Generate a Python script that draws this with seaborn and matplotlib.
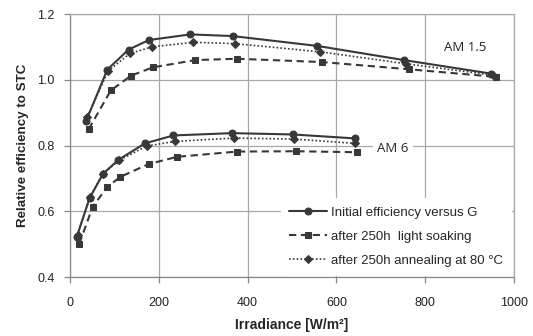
import matplotlib
matplotlib.use("Agg")
import matplotlib.pyplot as plt
import seaborn as sns
import pandas as pd

# ---- data ----
am15_g_init = [36, 84, 132, 178, 271, 366, 557, 752, 948]
am15_init = [0.874, 1.031, 1.092, 1.121, 1.138, 1.133, 1.103, 1.060, 1.019]
am15_g_ls = [42, 92, 138, 187, 282, 376, 568, 764, 959]
am15_ls = [0.850, 0.968, 1.013, 1.038, 1.060, 1.064, 1.054, 1.032, 1.009]
am15_g_ann = [39, 86, 135, 184, 278, 372, 564, 756, 953]
am15_ann = [0.888, 1.027, 1.080, 1.100, 1.114, 1.110, 1.085, 1.049, 1.014]

am6_g_init = [15, 44, 74, 109, 169, 233, 365, 502, 642]
am6_init = [0.522, 0.640, 0.714, 0.757, 0.807, 0.831, 0.838, 0.834, 0.822]
am6_g_ls = [21, 51, 83, 113, 177, 241, 376, 510, 647]
am6_ls = [0.502, 0.614, 0.673, 0.705, 0.744, 0.766, 0.782, 0.783, 0.780]
am6_g_ann = [17, 45, 75, 110, 173, 237, 369, 504, 642]
am6_ann = [0.530, 0.645, 0.715, 0.755, 0.799, 0.813, 0.823, 0.820, 0.807]

series_labels = ["Initial efficiency versus G",
                 "after 250h  light soaking",
                 "after 250h annealing at 80 \u00b0C"]
x_ticks = [0, 200, 400, 600, 800, 1000]
y_ticks = [0.4, 0.6, 0.8, 1.0, 1.2]

sns.set_theme(style="white")
plt.rcParams['font.family'] = ['Liberation Sans', 'DejaVu Sans']

fig = plt.figure(figsize=(5.33, 3.36), dpi=100)
ax = fig.add_axes([70/533, 1-277.3/336, (514-70)/533, (277.3-14)/336])

col = "#383838"
styles = [
    dict(ls="-", marker="o", ms=5.0, lw=1.5),
    dict(ls=(0, (3.5, 2.2)), marker="s", ms=4.2, lw=1.5),
    dict(ls=(0, (1, 1.3)), marker="D", ms=3.6, lw=1.2),
]
data = [
    [(am15_g_init, am15_init), (am6_g_init, am6_init)],
    [(am15_g_ls, am15_ls), (am6_g_ls, am6_ls)],
    [(am15_g_ann, am15_ann), (am6_g_ann, am6_ann)],
]
for i, (lab, st) in enumerate(zip(series_labels, styles)):
    for j, (gx, gy) in enumerate(data[i]):
        df = pd.DataFrame({"G": gx, "eff": gy})
        sns.lineplot(data=df, x="G", y="eff", ax=ax, sort=False, color=col,
                     linestyle=st["ls"], marker=st["marker"], markersize=st["ms"],
                     linewidth=st["lw"], markeredgecolor=col, markerfacecolor=col,
                     label=lab if j == 0 else None, legend=False, zorder=3)

ax.set_xlim(0, 1000)
ax.set_ylim(0.4, 1.2)
ax.set_xticks(x_ticks)
ax.set_yticks(y_ticks)
ax.set_xticklabels([str(t) for t in x_ticks], fontsize=9, color="#222222")
ax.set_yticklabels([f"{t:.1f}" for t in y_ticks], fontsize=9, color="#222222")
ax.grid(True, color="#a8a8a8", linewidth=0.9)
ax.set_axisbelow(True)
for s in ax.spines.values():
    s.set_color("#a8a8a8")
    s.set_linewidth(0.9)
ax.spines["left"].set_color("#888888")
ax.spines["bottom"].set_color("#888888")
ax.tick_params(axis="x", direction="out", length=4, width=0.9, color="#888888", pad=10, bottom=True)
ax.tick_params(axis="y", direction="out", length=4, width=0.9, color="#888888", pad=7, left=True)

ax.set_xlabel("Irradiance [W/m\u00b2]", fontsize=10, fontweight="bold", labelpad=7)
ax.set_ylabel("Relative efficiency to STC", fontsize=9.6, fontweight="bold", labelpad=6)

ax.text(890, 1.097, "AM 1.5", fontsize=9.5, ha="center", va="center", family=["Open Sans", "DejaVu Sans"])
ax.text(727, 0.79, "AM 6", fontsize=9.5, ha="center", va="center", family=["Open Sans", "DejaVu Sans"],
        bbox=dict(facecolor="white", edgecolor="none", pad=3))

h, l = ax.get_legend_handles_labels()
leg = ax.legend(h, l, loc="lower right", bbox_to_anchor=(1.0, 0.0), frameon=True,
                fontsize=9.5, handlelength=2.9, labelspacing=0.9, borderpad=0.6,
                handletextpad=0.3, borderaxespad=0.2, fancybox=False)
leg.get_frame().set_edgecolor("white")
leg.get_frame().set_facecolor("white")
leg.get_frame().set_alpha(1)

fig.savefig("out.png", dpi=100)
